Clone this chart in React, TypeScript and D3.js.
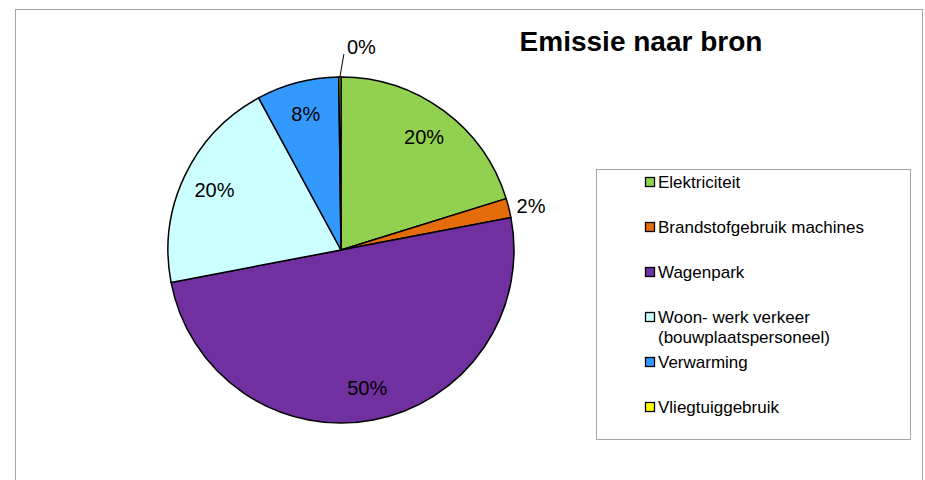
import React, { useRef, useEffect } from "react";
import * as d3 from "d3";

// chart data
const categories = [
  "Elektriciteit",
  "Brandstofgebruik machines",
  "Wagenpark",
  "Woon- werk verkeer (bouwplaatspersoneel)",
  "Verwarming",
  "Vliegtuiggebruik",
];
const legendLines = [
  ["Elektriciteit"],
  ["Brandstofgebruik machines"],
  ["Wagenpark"],
  ["Woon- werk verkeer", "(bouwplaatspersoneel)"],
  ["Verwarming"],
  ["Vliegtuiggebruik"],
];
const shares = [20.2, 1.8, 50.0, 20.1, 7.7, 0.2];
const colors = ["#92D050", "#E46C0A", "#7030A0", "#CCFFFF", "#3399FF", "#FFFF00"];
const title = "Emissie naar bron";

const W = 925;
const H = 480;
const FONT = "'Liberation Sans', Arial, sans-serif";

function App() {
  const svgRef = useRef<SVGSVGElement>(null);

  useEffect(() => {
    const svg = d3.select(svgRef.current);
    svg.selectAll("*").remove();

    // outer chart area border (runs off the bottom)
    svg
      .append("rect")
      .attr("x", 15.5)
      .attr("y", 9.5)
      .attr("width", 907)
      .attr("height", H)
      .attr("fill", "white")
      .attr("stroke", "#a6a6a6")
      .attr("stroke-width", 1);

    // title
    svg
      .append("text")
      .attr("x", 641)
      .attr("y", 51)
      .attr("text-anchor", "middle")
      .style("font-family", FONT)
      .style("font-size", "28px")
      .style("font-weight", "bold")
      .attr("fill", "#000")
      .text(title);

    const cx = 341;
    const cy = 250;
    const R = 173;

    const pie = d3
      .pie<number>()
      .sort(null)
      .value((d) => d);
    const arcs = pie(shares);

    const arc = d3.arc<d3.PieArcDatum<number>>().innerRadius(0).outerRadius(R);
    const labelArc = d3
      .arc<d3.PieArcDatum<number>>()
      .innerRadius(R * 0.81)
      .outerRadius(R * 0.81);

    const g = svg.append("g").attr("transform", `translate(${cx},${cy})`);

    g.selectAll("path")
      .data(arcs)
      .enter()
      .append("path")
      .attr("d", arc)
      .attr("fill", (d, i) => colors[i])
      .attr("stroke", "#000")
      .attr("stroke-width", 1.5)
      .attr("stroke-linejoin", "round");

    const fmt = (v: number) => `${Math.round(v)}%`;

    // labels inside big slices, outside for small ones
    arcs.forEach((d, i) => {
      const mid = (d.startAngle + d.endAngle) / 2;
      const span = d.endAngle - d.startAngle;
      if (span > 0.2) {
        const [x, y] = labelArc.centroid(d);
        g.append("text")
          .attr("x", x)
          .attr("y", y)
          .attr("dy", "0.35em")
          .attr("text-anchor", "middle")
          .style("font-family", FONT)
          .style("font-size", "20px")
          .attr("fill", "#000")
          .text(fmt(shares[i]));
      } else if (span > 0.05) {
        const r = R + 8;
        g.append("text")
          .attr("x", Math.sin(mid) * r)
          .attr("y", -Math.cos(mid) * r)
          .attr("dy", "0.35em")
          .attr("text-anchor", "start")
          .style("font-family", FONT)
          .style("font-size", "20px")
          .attr("fill", "#000")
          .text(fmt(shares[i]));
      } else {
        // tiny slice: leader line then label
        const x0 = Math.sin(mid) * R;
        const y0 = -Math.cos(mid) * R;
        const x1 = x0 + 4;
        const y1 = y0 - 23;
        g.append("line")
          .attr("x1", x0)
          .attr("y1", y0)
          .attr("x2", x1)
          .attr("y2", y1)
          .attr("stroke", "#000")
          .attr("stroke-width", 1);
        g.append("text")
          .attr("x", x1 + 3)
          .attr("y", y1)
          .attr("text-anchor", "start")
          .style("font-family", FONT)
          .style("font-size", "20px")
          .attr("fill", "#000")
          .text(fmt(shares[i]));
      }
    });

    // legend
    const legend = svg.append("g");
    legend
      .append("rect")
      .attr("x", 596.5)
      .attr("y", 169.5)
      .attr("width", 314)
      .attr("height", 270)
      .attr("fill", "white")
      .attr("stroke", "#a6a6a6")
      .attr("stroke-width", 1);

    const itemY = d3
      .scaleLinear()
      .domain([0, categories.length - 1])
      .range([188, 413]);

    categories.forEach((c, i) => {
      const y = itemY(i);
      legend
        .append("rect")
        .attr("x", 645.5)
        .attr("y", y - 10.5)
        .attr("width", 9)
        .attr("height", 9)
        .attr("fill", colors[i])
        .attr("stroke", "#000")
        .attr("stroke-width", 1.3);
      legendLines[i].forEach((line, j) => {
        legend
          .append("text")
          .attr("x", 658)
          .attr("y", y + j * 20)
          .style("font-family", FONT)
          .style("font-size", "17px")
          .attr("fill", "#000")
          .text(line);
      });
    });
  }, []);

  return (
    <div style={{ position: "absolute", left: 0, top: 0, width: W, height: H, background: "white" }}>
      <svg ref={svgRef} width={W} height={H}></svg>
    </div>
  );
}

export default App;
